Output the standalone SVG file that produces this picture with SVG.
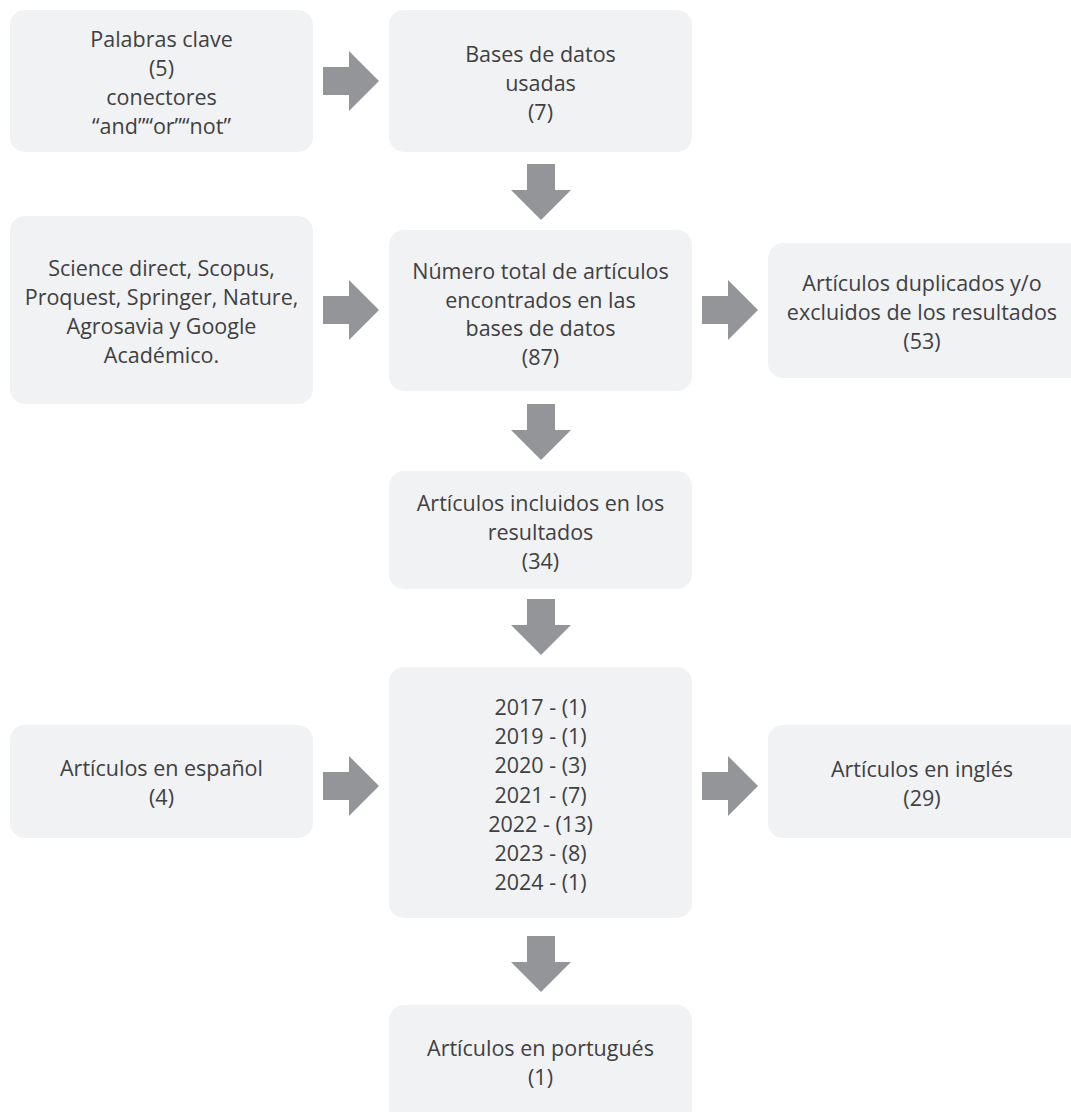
<svg xmlns="http://www.w3.org/2000/svg" width="1071" height="1112" viewBox="0 0 1071 1112">
<style>
.box{fill:#f1f2f4}
.arr{fill:#939598}
text{font-family:"Open Sans","Noto Sans","Liberation Sans",sans-serif;font-size:21.5px;fill:#404041;text-anchor:middle}
</style>
<rect width="1071" height="1112" fill="#ffffff"/>
<g id="connectors">
<path class="arr" d="M323,67 H349 V51 L379,81 L349,111 V95 H323 Z"/>
<path class="arr" d="M527,164 H555 V190 H571 L541,220 L511,190 H527 Z"/>
<path class="arr" d="M323,296 H349 V280 L379,310 L349,340 V324 H323 Z"/>
<path class="arr" d="M702,296 H728 V280 L758,310 L728,340 V324 H702 Z"/>
<path class="arr" d="M527,404 H555 V430 H571 L541,460 L511,430 H527 Z"/>
<path class="arr" d="M527,599 H555 V625 H571 L541,655 L511,625 H527 Z"/>
<path class="arr" d="M323,772 H349 V756 L379,786 L349,816 V800 H323 Z"/>
<path class="arr" d="M702,772 H728 V756 L758,786 L728,816 V800 H702 Z"/>
<path class="arr" d="M527,936 H555 V962 H571 L541,992 L511,962 H527 Z"/>
</g>
<g id="palabras">
<rect class="box" x="10" y="10" width="303" height="142" rx="15"/>
<text x="161.5" y="46.5">Palabras clave</text>
<text x="161.5" y="75.5">(5)</text>
<text x="161.5" y="104.5">conectores</text>
<text x="161.5" y="133.5">“and”“or”“not”</text>
</g>
<g id="bases">
<rect class="box" x="389" y="10" width="303" height="142" rx="15"/>
<text x="540.5" y="61.5">Bases de datos</text>
<text x="540.5" y="90.5">usadas</text>
<text x="540.5" y="119.5">(7)</text>
</g>
<g id="fuentes">
<rect class="box" x="10" y="216" width="303" height="188" rx="15"/>
<text x="161.5" y="276">Science direct, Scopus,</text>
<text x="161.5" y="305">Proquest, Springer, Nature,</text>
<text x="161.5" y="334">Agrosavia y Google</text>
<text x="161.5" y="363">Académico.</text>
</g>
<g id="total">
<rect class="box" x="389" y="230" width="303" height="161" rx="15"/>
<text x="540.5" y="279">Número total de artículos</text>
<text x="540.5" y="307.5">encontrados en las</text>
<text x="540.5" y="336">bases de datos</text>
<text x="540.5" y="364.5">(87)</text>
</g>
<g id="duplicados">
<rect class="box" x="768" y="243" width="330" height="135" rx="15"/>
<text x="922" y="290.5">Artículos duplicados y/o</text>
<text x="922" y="319.5">excluidos de los resultados</text>
<text x="922" y="348.5">(53)</text>
</g>
<g id="incluidos">
<rect class="box" x="389" y="471" width="303" height="118" rx="15"/>
<text x="540.5" y="510.5">Artículos incluidos en los</text>
<text x="540.5" y="539.5">resultados</text>
<text x="540.5" y="568.5">(34)</text>
</g>
<g id="anios">
<rect class="box" x="389" y="667" width="303" height="251" rx="15"/>
<text x="540.5" y="715">2017 - (1)</text>
<text x="540.5" y="744.2">2019 - (1)</text>
<text x="540.5" y="773.4">2020 - (3)</text>
<text x="540.5" y="802.6">2021 - (7)</text>
<text x="540.5" y="831.8">2022 - (13)</text>
<text x="540.5" y="861">2023 - (8)</text>
<text x="540.5" y="890.2">2024 - (1)</text>
</g>
<g id="espanol">
<rect class="box" x="10" y="725" width="303" height="113" rx="15"/>
<text x="161.5" y="776">Artículos en español</text>
<text x="161.5" y="805">(4)</text>
</g>
<g id="ingles">
<rect class="box" x="768" y="725" width="330" height="113" rx="15"/>
<text x="922" y="776.5">Artículos en inglés</text>
<text x="922" y="805.5">(29)</text>
</g>
<g id="portugues">
<rect class="box" x="389" y="1005" width="303" height="130" rx="15"/>
<text x="540.5" y="1056">Artículos en portugués</text>
<text x="540.5" y="1085">(1)</text>
</g>
</svg>
